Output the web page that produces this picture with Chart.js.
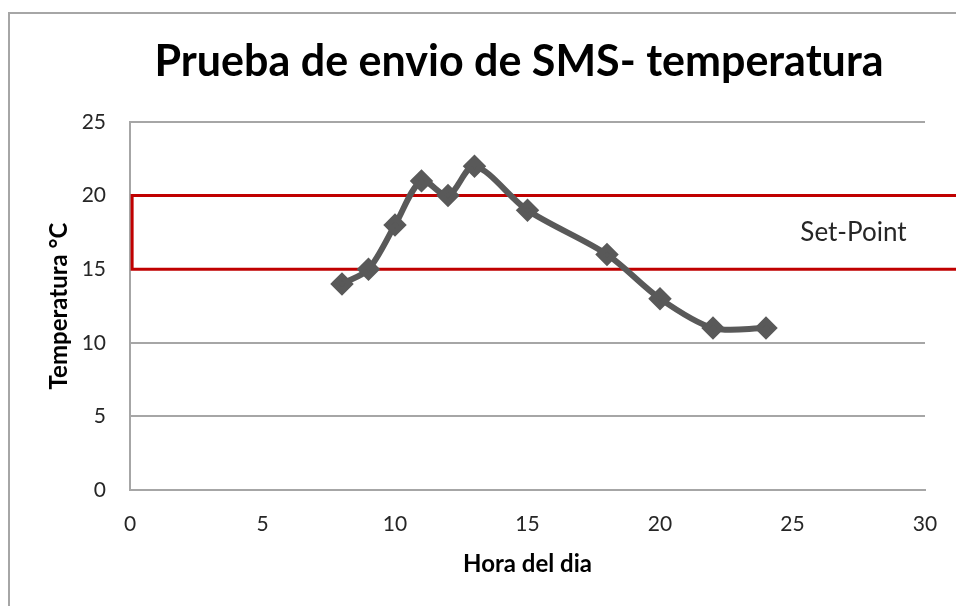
<!DOCTYPE html>
<html>
<head>
<meta charset="utf-8">
<script src="https://cdn.jsdelivr.net/npm/chart.js@4/dist/chart.umd.min.js"></script>
<style>
  html, body { margin: 0; padding: 0; background: #ffffff; }
  #wrap { position: relative; width: 956px; height: 606px; }
</style>
</head>
<body>
<div id="wrap"><canvas id="chart" width="956" height="606"></canvas></div>
<script>
// Hourly temperature readings from the SMS test
const hours = [8, 9, 10, 11, 12, 13, 15, 18, 20, 22, 24];
const temps = [14, 15, 18, 21, 20, 22, 19, 16, 13, 11, 11];

// Set-point band (°C)
const setPointLow = 15;
const setPointHigh = 20;
const setPointLabel = 'Set-Point';

// Axis ticks
const xTicks = [0, 5, 10, 15, 20, 25, 30];
const yTicks = [0, 5, 10, 15, 20, 25];

const chartTitle = 'Prueba de envio de SMS- temperatura';

const FONT = 'Lato, "Open Sans", sans-serif';
const TEXT = '#262626';

// Band outline: left edge just inside the axis, open past the right side
const band = [
  { x: 32, y: setPointHigh },
  { x: 0.08, y: setPointHigh },
  { x: 0.08, y: setPointLow },
  { x: 32, y: setPointLow }
];

// White chart area with its grey top/left border
const frame = {
  id: 'frame',
  beforeDraw(chart) {
    const c = chart.ctx;
    c.save();
    c.fillStyle = '#ffffff';
    c.fillRect(0, 0, chart.width, chart.height);
    c.strokeStyle = '#a6a6a6';
    c.lineWidth = 2;
    c.beginPath();
    c.moveTo(9, chart.height);
    c.lineTo(9, 13);
    c.lineTo(chart.width, 13);
    c.stroke();
    c.restore();
  }
};

// Title centred over the frame, above the plot
const heading = {
  id: 'heading',
  afterDraw(chart) {
    const c = chart.ctx;
    c.save();
    c.font = 'bold 43px ' + FONT;
    c.fillStyle = '#000000';
    c.textAlign = 'center';
    c.textBaseline = 'middle';
    c.fillText(chartTitle, 519, 62);
    c.restore();
  }
};

const bandLabel = {
  id: 'bandLabel',
  afterDatasetsDraw(chart) {
    const { x, y } = chart.scales;
    const c = chart.ctx;
    c.save();
    c.font = '26px ' + FONT;
    c.fillStyle = TEXT;
    c.textAlign = 'center';
    c.textBaseline = 'middle';
    c.fillText(setPointLabel, x.getPixelForValue(27.3), y.getPixelForValue((setPointLow + setPointHigh) / 2));
    c.restore();
  }
};

new Chart(document.getElementById('chart'), {
  type: 'scatter',
  data: {
    datasets: [
      {
        label: 'Temperatura',
        data: hours.map((h, i) => ({ x: h, y: temps[i] })),
        showLine: true,
        borderColor: '#595959',
        backgroundColor: '#595959',
        borderWidth: 6,
        pointStyle: 'rectRot',
        pointRadius: 7.5,
        pointHoverRadius: 7.5,
        tension: 0.3,
        order: 0
      },
      {
        label: setPointLabel,
        data: band,
        showLine: true,
        borderColor: '#c00000',
        borderWidth: 3,
        pointRadius: 0,
        tension: 0,
        clip: false,
        order: 1
      }
    ]
  },
  options: {
    responsive: false,
    animation: false,
    events: [],
    layout: { padding: { left: 0, right: 31, top: 122, bottom: 0 } },
    plugins: {
      legend: { display: false },
      tooltip: { enabled: false },
      title: { display: false }
    },
    scales: {
      x: {
        type: 'linear',
        min: 0,
        max: 30,
        afterBuildTicks(s) { s.ticks = xTicks.map(v => ({ value: v })); },
        grid: { display: false, drawTicks: false },
        border: { display: true, color: '#a6a6a6', width: 2 },
        ticks: { color: TEXT, font: { family: FONT, size: 21 }, padding: 22 },
        title: {
          display: true,
          text: 'Hora del dia',
          color: '#000000',
          font: { family: FONT, size: 24, weight: 'bold' },
          padding: { top: 10, bottom: 27 }
        },
        afterFit(s) { s.height = 116; s.paddingRight = 0; s.paddingLeft = 0; }
      },
      y: {
        type: 'linear',
        min: 0,
        max: 25,
        afterBuildTicks(s) { s.ticks = yTicks.map(v => ({ value: v })); },
        grid: { color: '#a6a6a6', lineWidth: 2, drawTicks: false },
        border: { display: true, color: '#a6a6a6', width: 2 },
        ticks: { color: TEXT, font: { family: FONT, size: 21 }, padding: 24 },
        title: {
          display: true,
          text: 'Temperatura °C',
          color: '#000000',
          font: { family: FONT, size: 24, weight: 'bold' },
          padding: { top: 45, bottom: 10 }
        },
        afterFit(s) { s.width = 130; s.paddingTop = 0; s.paddingBottom = 0; }
      }
    }
  },
  plugins: [frame, heading, bandLabel]
});
</script>
</body>
</html>
